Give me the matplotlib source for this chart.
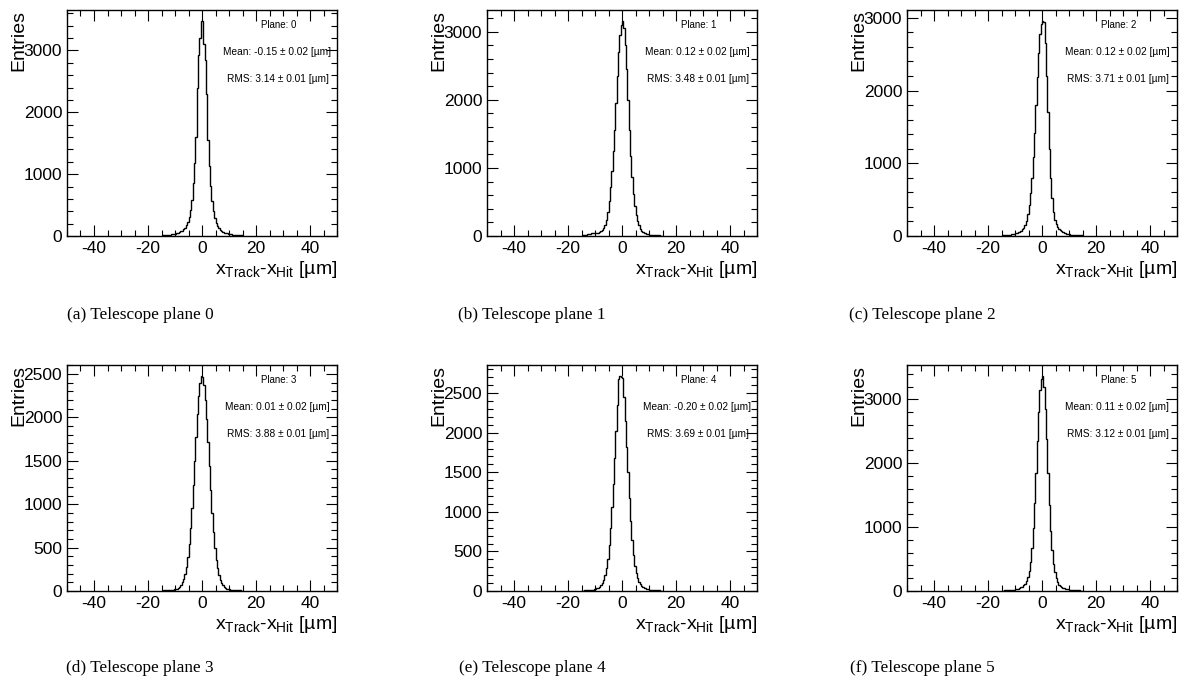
import matplotlib
matplotlib.use("Agg")
import matplotlib.pyplot as plt
from matplotlib.ticker import MultipleLocator
import numpy as np

plt.rcParams['font.family'] = ['Liberation Sans', 'DejaVu Sans']
plt.rcParams['mathtext.fontset'] = 'custom'
plt.rcParams['mathtext.rm'] = 'Liberation Sans'
plt.rcParams['mathtext.it'] = 'Liberation Sans:italic'
plt.rcParams['axes.unicode_minus'] = False

# residual histograms, 0.5 um bins between -15 and 15 um (empty outside)
bin_lo, bin_hi, bin_w = -15.0, 15.0, 0.5

counts_plane0 = [11, 12, 14, 16, 18, 20, 23, 26, 29, 33, 38, 45, 52, 59, 73,
                 87, 110, 135, 175, 230, 310, 425, 590, 850, 1180, 1600, 2400, 2920, 3200, 3480,
                 3470, 3100, 2850, 2300, 1550, 1130, 810, 560, 400, 290, 215, 165, 128, 103, 82,
                 68, 56, 48, 42, 36, 31, 27, 24, 21, 19, 17, 15, 13, 12, 10]
counts_plane1 = [10, 11, 13, 18, 24, 30, 35, 40, 44, 46, 47, 46, 48, 55, 68,
                 88, 120, 165, 240, 350, 520, 720, 960, 1250, 1560, 1950, 2350, 2700, 2950, 3100,
                 3160, 3050, 2800, 2450, 2000, 1560, 1180, 860, 620, 440, 310, 220, 155, 110, 80,
                 60, 46, 37, 30, 25, 21, 18, 15, 13, 11, 10, 9, 8, 7, 6]
counts_plane2 = [8, 9, 10, 12, 14, 16, 19, 22, 26, 30, 35, 42, 50, 60, 75,
                 92, 115, 150, 210, 300, 420, 590, 800, 1080, 1420, 1800, 2180, 2520, 2780, 2920,
                 2960, 2940, 2650, 2200, 1700, 1200, 800, 520, 330, 220, 160, 120, 95, 76, 62,
                 51, 43, 36, 30, 26, 22, 19, 16, 14, 12, 11, 10, 9, 8, 7]
counts_plane3 = [5, 6, 7, 8, 9, 10, 12, 14, 16, 19, 23, 28, 36, 48, 68,
                 98, 140, 200, 280, 390, 540, 730, 960, 1220, 1500, 1780, 2040, 2250, 2400, 2480,
                 2460, 2370, 2200, 1980, 1720, 1440, 1160, 900, 680, 500, 360, 260, 185, 130, 92,
                 66, 48, 36, 28, 22, 18, 15, 13, 11, 10, 9, 8, 7, 6, 5]
counts_plane4 = [5, 6, 7, 8, 9, 10, 12, 14, 17, 21, 26, 32, 40, 52, 70,
                 98, 140, 200, 290, 410, 580, 800, 1060, 1350, 1680, 2020, 2350, 2680, 2720, 2710,
                 2690, 2450, 2150, 1820, 1500, 1180, 880, 640, 450, 320, 225, 160, 115, 85, 64,
                 50, 40, 32, 26, 22, 18, 15, 13, 11, 10, 9, 8, 7, 6, 5]
counts_plane5 = [6, 7, 8, 9, 10, 11, 13, 15, 17, 20, 24, 29, 36, 45, 56,
                 70, 88, 112, 150, 215, 310, 460, 680, 980, 1380, 1850, 2350, 2800, 3150, 3320,
                 3370, 3200, 2850, 2380, 1850, 1350, 940, 640, 430, 290, 200, 140, 100, 76, 60,
                 48, 40, 33, 28, 24, 20, 17, 15, 13, 11, 10, 9, 8, 7, 6]

all_counts = [counts_plane0, counts_plane1, counts_plane2,
              counts_plane3, counts_plane4, counts_plane5]
means = ["-0.15", "0.12", "0.12", "0.01", "-0.20", "0.11"]
rms_values = ["3.14", "3.48", "3.71", "3.88", "3.69", "3.12"]
mean_err = "0.02"
rms_err = "0.01"
y_major = [1000, 1000, 1000, 500, 500, 1000]
y_minor = [200, 200, 200, 100, 100, 200]
captions = ["(a) Telescope plane 0", "(b) Telescope plane 1", "(c) Telescope plane 2",
            "(d) Telescope plane 3", "(e) Telescope plane 4", "(f) Telescope plane 5"]

W, H = 1181, 693
fig = plt.figure(figsize=(W / 100, H / 100), dpi=100)

col_left = [67, 487, 907]
row_top = [10, 365]
ax_w, ax_h = 270, 226
caption_x = [140, 532, 922]
caption_y = [315, 668]

edges = np.arange(bin_lo, bin_hi + bin_w / 2, bin_w)

for i in range(6):
    r, c = divmod(i, 3)
    ax = fig.add_axes([col_left[c] / W, (H - row_top[r] - ax_h) / H, ax_w / W, ax_h / H])
    counts = np.array(all_counts[i])
    ax.stairs(counts, edges, color='black', lw=1.0, baseline=None)
    ax.set_xlim(-50, 50)
    ax.set_ylim(0, counts.max() * 1.05)
    ax.set_xticks([-40, -20, 0, 20, 40])
    ax.xaxis.set_minor_locator(MultipleLocator(5))
    ax.yaxis.set_major_locator(MultipleLocator(y_major[i]))
    ax.yaxis.set_minor_locator(MultipleLocator(y_minor[i]))
    ax.tick_params(which='both', direction='in', top=True, right=True, labelsize=12.5, pad=3.5)
    ax.tick_params(which='major', length=8, width=0.8)
    ax.tick_params(which='minor', length=4, width=0.8)
    for s in ax.spines.values():
        s.set_linewidth(1.0)

    # ROOT style axis titles
    ax.text(-0.18, 1.0, "Entries", transform=ax.transAxes, rotation=90,
            ha='center', va='top', fontsize=14)
    ax.text(1.0, -0.15, r"x$_{\mathrm{Track}}$-x$_{\mathrm{Hit}}$ [µm]", transform=ax.transAxes,
            ha='right', va='center', fontsize=14)

    # stats
    ax.text(0.785, 0.934, f"Plane: {i}", transform=ax.transAxes, ha='center', va='center', fontsize=7)
    ax.text(0.778, 0.814, f"Mean: {means[i]} ± {mean_err} [µm]", transform=ax.transAxes,
            ha='center', va='center', fontsize=7.3)
    ax.text(0.782, 0.695, f"RMS: {rms_values[i]} ± {rms_err} [µm]", transform=ax.transAxes,
            ha='center', va='center', fontsize=7.3)

    fig.text(caption_x[c] / W, 1 - caption_y[r] / H, captions[i], ha='center', va='center',
             fontsize=12.4, family=['Liberation Serif', 'DejaVu Serif'])

fig.savefig("out.png", dpi=100)
